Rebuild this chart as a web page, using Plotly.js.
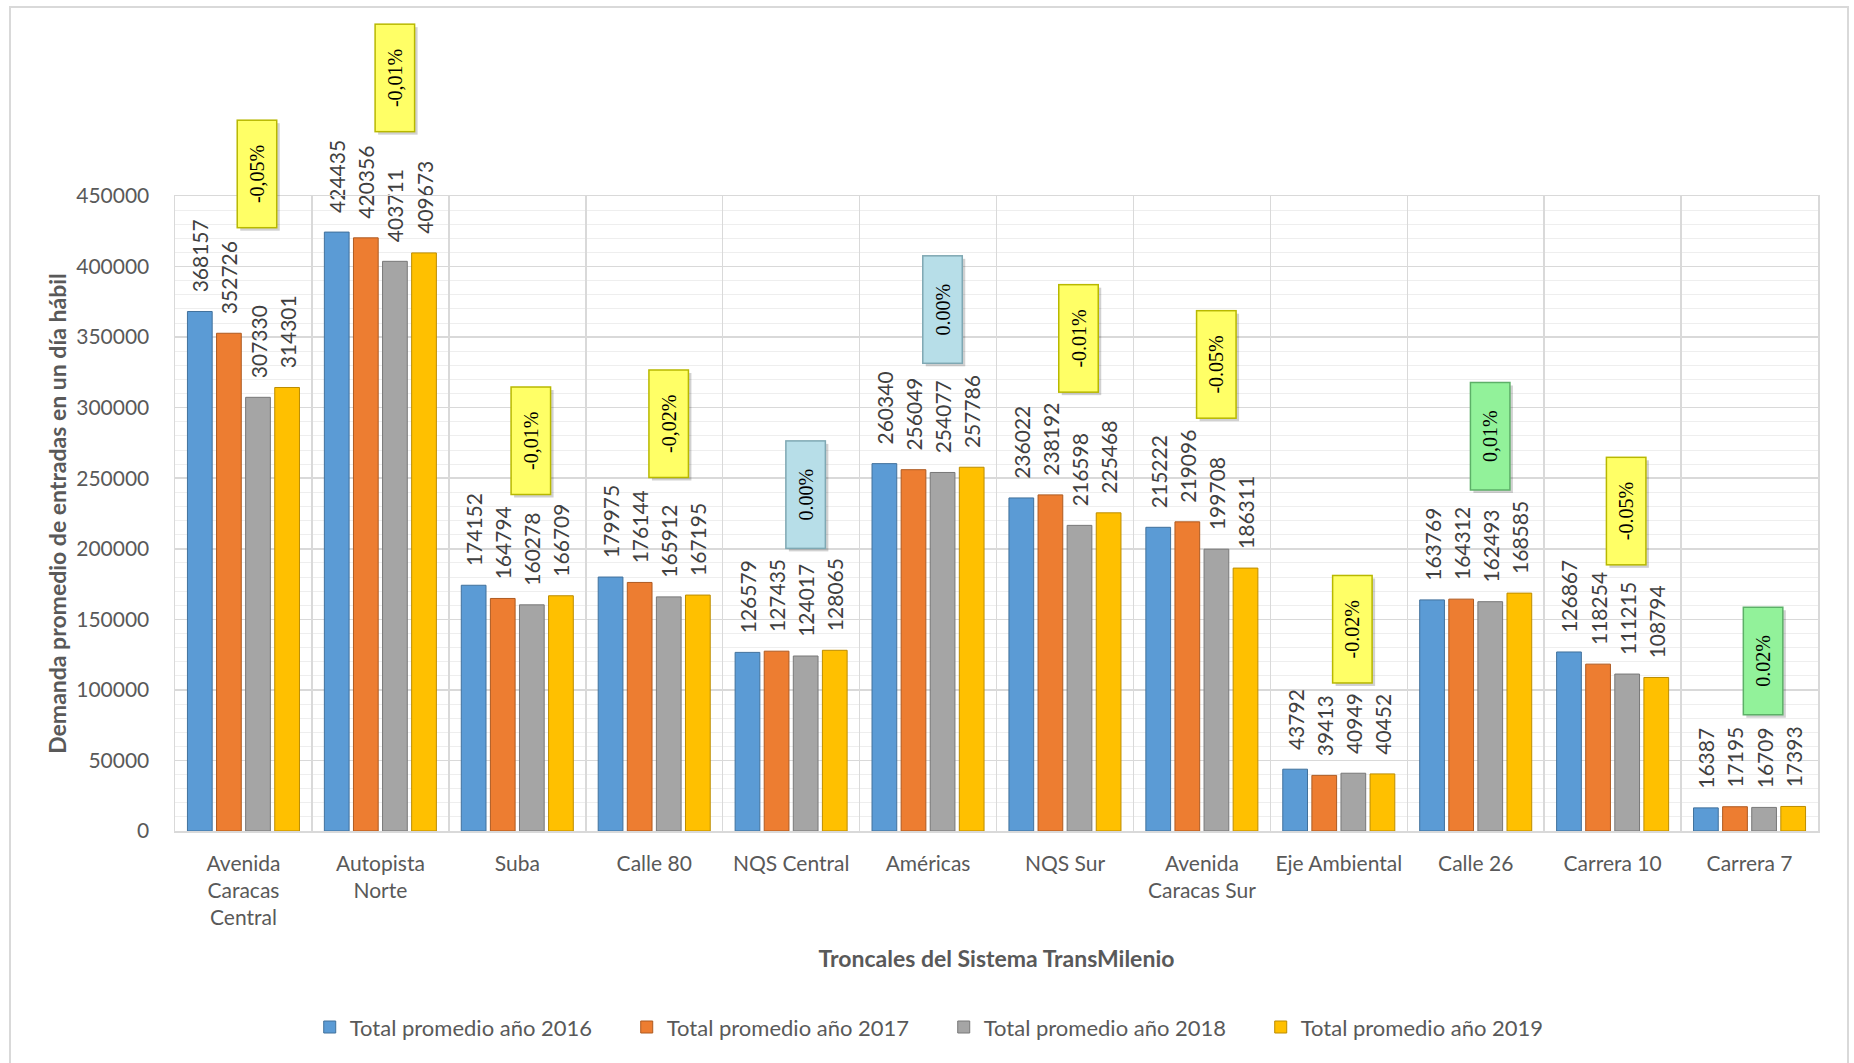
<!DOCTYPE html>
<html>
<head>
<meta charset="utf-8">
<script src="https://cdn.plot.ly/plotly-3.0.1.min.js"></script>
<style>
  html, body { margin: 0; padding: 0; background: #ffffff; }
  #chart { width: 1854px; height: 1063px; }
  #frame { position: absolute; left: 9px; top: 6px; width: 1836px; height: 1060px; border: 2px solid #d9d9d9; pointer-events: none; }
</style>
</head>
<body>
<div id="chart"></div>
<div id="frame"></div>
<script>
// ---- data ----
const categories = [
  "Avenida<br>Caracas<br>Central", "Autopista<br>Norte", "Suba", "Calle 80", "NQS Central",
  "Américas", "NQS Sur", "Avenida<br>Caracas Sur", "Eje Ambiental", "Calle 26", "Carrera 10", "Carrera 7"
];
const seriesNames = ["Total promedio año 2016", "Total promedio año 2017", "Total promedio año 2018", "Total promedio año 2019"];
const y2016 = [368157, 424435, 174152, 179975, 126579, 260340, 236022, 215222, 43792, 163769, 126867, 16387];
const y2017 = [352726, 420356, 164794, 176144, 127435, 256049, 238192, 219096, 39413, 164312, 118254, 17195];
const y2018 = [307330, 403711, 160278, 165912, 124017, 254077, 216598, 199708, 40949, 162493, 111215, 16709];
const y2019 = [314301, 409673, 166709, 167195, 128065, 257786, 225468, 186311, 40452, 168585, 108794, 17393];
const changeLabels = ["-0,05%", "-0,01%", "-0,01%", "-0,02%", "0.00%", "0.00%", "-0.01%", "-0.05%", "-0.02%", "0,01%", "-0.05%", "0.02%"];
const changeKind = ["neg", "neg", "neg", "neg", "zero", "zero", "neg", "neg", "neg", "pos", "neg", "pos"];
// vertical centre of each change box, in axis units
const changeBoxY = [465600, 533600, 276400, 288400, 238100, 369200, 349400, 330900, 143200, 279900, 226800, 120500];

const yMax = 450000;
const barColors = ["#5B9BD5", "#ED7D31", "#A5A5A5", "#FFC000"];
const barLines = ["#41719C", "#AE5A21", "#787878", "#BC8C00"];
const boxFill = { neg: "#FFFF66", zero: "#B7DEE8", pos: "#92F29A" };
const boxLine = { neg: "#B8B800", zero: "#7FA8B3", pos: "#5DB068" };

const FONT = "Lato, 'Open Sans', sans-serif";
const SERIF = "'Liberation Serif', 'Times New Roman', serif";
const PAD = "\u00A0\u00A0\u00A0";
const allY = [y2016, y2017, y2018, y2019];

const traces = allY.map((ys, i) => ({
  type: "bar",
  name: seriesNames[i],
  x: categories,
  y: ys,
  text: ys.map(v => PAD + String(v)),
  textposition: "outside",
  textangle: -90,
  constraintext: "none",
  cliponaxis: false,
  textfont: { family: FONT, size: 21, color: "#404040" },
  marker: { color: barColors[i], line: { color: barLines[i], width: 1 } },
  hoverinfo: "x+y"
}));

const boxBase = (c, i) => ({
  xref: "x", yref: "paper",
  x: c, y: changeBoxY[i] / yMax,
  xanchor: "center", yanchor: "middle",
  text: changeLabels[i],
  showarrow: false,
  textangle: -90,
  width: 104, height: 36,
  borderpad: 1
});

const shadows = categories.map((c, i) => Object.assign(boxBase(c, i), {
  xshift: 17, yshift: -3,
  bgcolor: "rgba(0,0,0,0.18)",
  borderwidth: 1.5, bordercolor: "rgba(0,0,0,0)",
  font: { family: SERIF, size: 20, color: "rgba(0,0,0,0)" }
}));
const boxes = categories.map((c, i) => Object.assign(boxBase(c, i), {
  xshift: 14,
  bgcolor: boxFill[changeKind[i]],
  bordercolor: boxLine[changeKind[i]],
  borderwidth: 1.5,
  font: { family: SERIF, size: 20, color: "#000000" }
}));

const layout = {
  width: 1854, height: 1063,
  paper_bgcolor: "#ffffff", plot_bgcolor: "#ffffff",
  margin: { l: 175, r: 36, t: 196, b: 232 },
  barmode: "group",
  bargap: 0.15,
  bargroupgap: 0.15,
  showlegend: true,
  legend: {
    orientation: "h",
    x: 0.082, xanchor: "left",
    y: -0.309, yanchor: "middle",
    entrywidth: 272, entrywidthmode: "pixels",
    font: { family: FONT, size: 22, color: "#595959" },
    itemclick: false
  },
  xaxis: {
    type: "category",
    tickson: "boundaries",
    showgrid: true, gridcolor: "#d9d9d9", gridwidth: 1.5,
    showline: true, linecolor: "#d9d9d9", linewidth: 1.5, mirror: true,
    ticks: "",
    ticklabelstandoff: 13,
    tickfont: { family: FONT, size: 21, color: "#595959" },
    title: { text: "Troncales del Sistema TransMilenio", standoff: 22,
             font: { family: FONT, size: 23, color: "#595959", weight: "bold" } },
    automargin: false
  },
  yaxis: {
    range: [0, yMax],
    dtick: 50000,
    showgrid: true, gridcolor: "#d9d9d9", gridwidth: 1.5,
    minor: { dtick: 10000, showgrid: true, gridcolor: "#eeeeee", gridwidth: 1 },
    zeroline: false,
    showline: true, linecolor: "#d9d9d9", linewidth: 1.5, mirror: true,
    ticks: "",
    ticklabelstandoff: 20,
    tickformat: "d",
    tickfont: { family: FONT, size: 21, color: "#595959" },
    title: { text: "Demanda promedio de entradas en un día hábil", standoff: 3,
             font: { family: FONT, size: 23, color: "#595959", weight: "bold" } },
    automargin: false
  },
  annotations: shadows.concat(boxes)
};

Plotly.newPlot("chart", traces, layout, { displayModeBar: false, staticPlot: true });
</script>
</body>
</html>
